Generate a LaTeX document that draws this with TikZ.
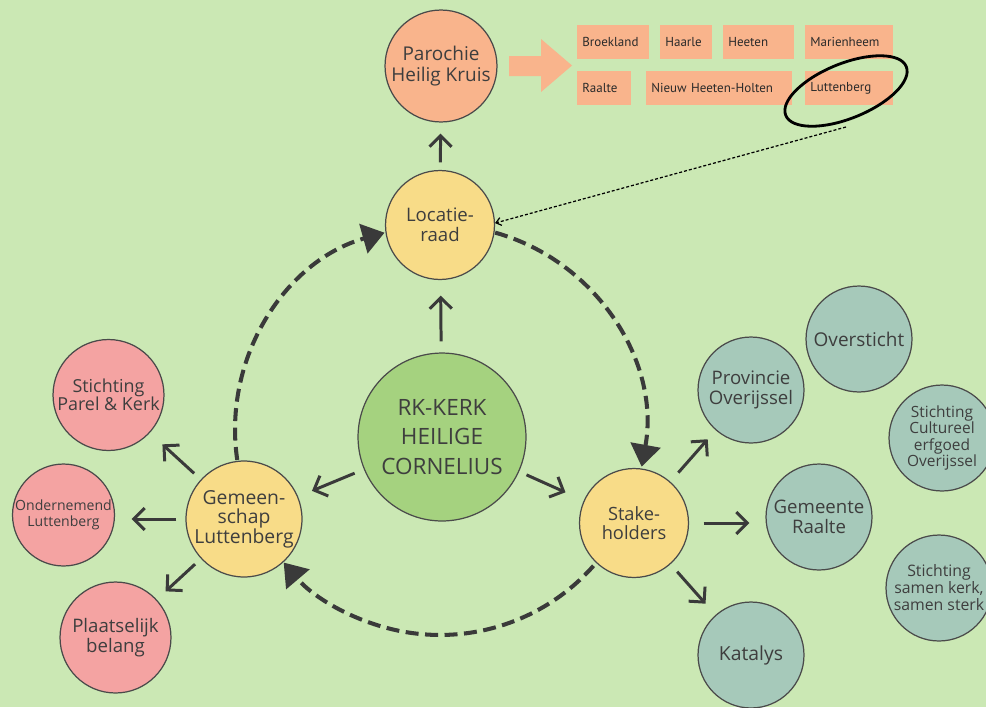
\documentclass[tikz,border=0pt]{standalone}
\usepackage{fontspec}
\setmainfont{Open Sans}
\newfontfamily\rectfont{PT Sans}
\usetikzlibrary{arrows.meta,calc}
\definecolor{bg}{HTML}{CBE8B4}
\definecolor{rkgreen}{HTML}{A5D27F}
\definecolor{yel}{HTML}{F8DC88}
\definecolor{orng}{HTML}{F9B48C}
\definecolor{pink}{HTML}{F4A3A2}
\definecolor{teal}{HTML}{A6C9BA}
\definecolor{bord}{HTML}{4A4A4A}
\definecolor{ink}{HTML}{3A3A3A}
\definecolor{txt}{HTML}{3E3E3E}
\definecolor{rtxt}{HTML}{2A2A2A}
\newcommand{\myfs}[2]{\fontsize{#1pt}{#2pt}\selectfont}
\begin{document}
\begin{tikzpicture}[x=0.02cm,y=0.02cm,
  circ/.style={circle,draw=bord,line width=0.7pt,inner sep=0pt,minimum size=#1*0.04cm,align=center,text=txt},
  arr/.style={draw=ink,line width=1.7pt,-{Straight Barb[length=0.22cm,width=0.44cm]}},
  dasharc/.style={draw=ink,line width=2.3pt,dash pattern=on 0.26cm off 0.13cm,-{Triangle[length=0.44cm,width=0.6cm]}},
  place/.style={fill=orng,anchor=north west,minimum height=0.68cm,inner xsep=0.1cm,inner ysep=0pt,align=left,font=\rectfont\myfs{7.4}{8},text=rtxt}
]
\fill[bg] (0,0) rectangle (986,-707);
\useasboundingbox (0,0) rectangle (986,-707);
\clip (0,0) rectangle (986,-707);

% dashed cycle
\coordinate (cc) at (440,-430);
\draw[dasharc] ($(cc)+(188.4:4.1cm)$) arc[start angle=188.4,end angle=105.7,radius=4.1cm];
\draw[dasharc] ($(cc)+(74.4:4.1cm)$) arc[start angle=74.4,end angle=-10.3,radius=4.1cm];
\draw[dasharc] ($(cc)+(-41.5:4.1cm)$) arc[start angle=-41.5,end angle=-139.7,radius=4.1cm];

% main nodes
\node[circ=56,fill=orng,font=\myfs{10.8}{11.6}] (parochie) at (441,-66) {Parochie\\Heilig Kruis};
\node[circ=54.5,fill=yel,font=\myfs{10.6}{11.4}] (locatie) at (440,-225) {Locatie-\\raad};
\node[circ=84,fill=rkgreen,font=\myfs{12.8}{17}] (rk) at (442,-437) {RK-KERK\\HEILIGE\\CORNELIUS};
\node[circ=58,fill=yel,font=\myfs{11}{11.2}] (gem) at (244,-519) {Gemeen-\\schap\\Luttenberg};
\node[circ=54.5,fill=yel,font=\myfs{10.4}{11}] (stake) at (634,-523) {Stake-\\holders};

% left
\node[circ=55.5,fill=pink,font=\myfs{10.2}{10.4}] (parel) at (108.5,-395) {Stichting\\Parel \& Kerk};
\node[circ=51,fill=pink,font=\myfs{8}{9.1}] (onder) at (63.5,-515) {Ondernemend\\Luttenberg};
\node[circ=55.5,fill=pink,font=\myfs{10.6}{11}] (plaats) at (115.5,-637.5) {Plaatselijk\\belang};

% right
\node[circ=53,fill=teal,font=\myfs{10.8}{11.4}] (overs) at (859,-339) {Oversticht};
\node[circ=53,fill=teal,font=\myfs{10.6}{11.4}] (prov) at (751,-390) {Provincie\\Overijssel};
\node[circ=53,fill=teal,font=\myfs{8.8}{9.3}] (cult) at (942,-438) {Stichting\\Cultureel\\erfgoed\\Overijssel};
\node[circ=53,fill=teal,font=\myfs{10.6}{11.4}] (raalte) at (819,-517) {Gemeente\\Raalte};
\node[circ=53,fill=teal,font=\myfs{9}{9.7}] (samen) at (939,-588) {Stichting\\samen kerk,\\samen sterk};
\node[circ=53,fill=teal,font=\myfs{11}{12}] (katalys) at (751,-655) {Katalys};

% arrows
\draw[arr,shorten <=0.22cm,shorten >=0.31cm] (rk) -- (locatie);
\draw[arr,shorten <=0.15cm,shorten >=0.22cm] (locatie) -- (parochie);
\draw[arr,shorten <=0.2cm,shorten >=0.3cm] (rk) -- (gem);
\draw[arr,shorten <=0.16cm,shorten >=0.4cm] (rk) -- (stake);
\draw[arr,shorten <=0.18cm,shorten >=0.34cm] (gem) -- (parel);
\draw[arr,shorten <=0.18cm,shorten >=0.33cm] (gem) -- (onder.east |- gem);
\draw[arr,shorten <=0.16cm,shorten >=0.24cm] (gem) -- (plaats);
\draw[arr,shorten <=0.24cm,shorten >=0.24cm] (stake) -- (prov);
\draw[arr,shorten <=0.29cm,shorten >=0.32cm] (stake) -- (raalte.west |- stake);
\draw[arr,shorten <=0.2cm,shorten >=0.3cm] (stake) -- (katalys);

% big orange arrow
\fill[orng] (509,-56) -- (541,-56) -- (541,-39) -- (572,-65.5) -- (541,-92) -- (541,-76) -- (509,-76) -- cycle;

% places
\node[place,text width=1.24cm] (broek) at (577,-25) {Broekland};
\node[place,text width=0.84cm] (haarle) at (660,-25) {Haarle};
\node[place,text width=1.22cm] (heeten) at (723,-25) {Heeten};
\node[place,text width=1.56cm] (marien) at (805,-25) {Marienheem};
\node[place,text width=0.88cm] (raaltep) at (577,-71) {Raalte};
\node[place,text width=2.72cm] (nieuw) at (646,-71) {Nieuw Heeten-Holten};
\node[place,text width=1.56cm] (lutt) at (805,-71) {Luttenberg};

% hand-drawn ellipse and dotted link
\draw[line width=1.6pt,black,rotate around={22:(846,-91)}] (846,-91) ellipse [x radius=1.3cm,y radius=0.55cm];
\coordinate (lutmark) at (846,-127);
\draw[line width=0.7pt,black,dash pattern=on 0.06cm off 0.04cm,-{Straight Barb[length=0.1cm,width=0.16cm]}] (lutmark) -- (locatie.2);
\end{tikzpicture}
\end{document}
